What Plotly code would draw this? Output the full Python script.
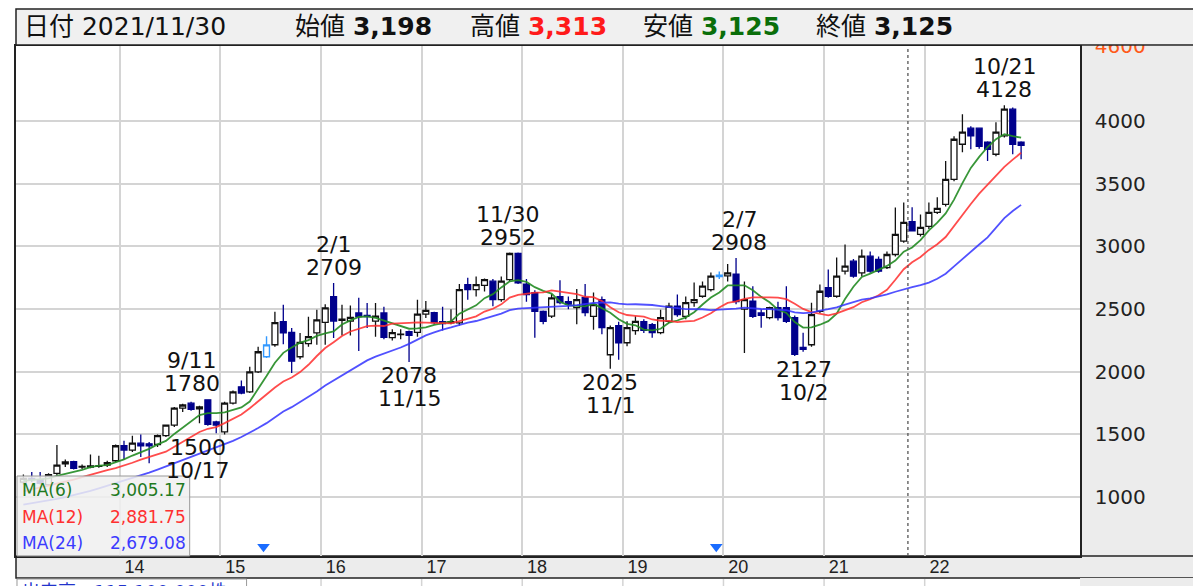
import plotly.graph_objects as go
import pandas as pd

# ---------------- data (monthly candles, Jan 2013 - Dec 2022) ----------------
months = pd.period_range("2013-01", "2022-12", freq="M").strftime("%Y-%m").tolist()

open_ = [1120, 1150, 1140, 1100, 1190, 1265, 1282, 1240, 1240, 1245, 1255, 1290,
         1410, 1375, 1430, 1425, 1420, 1490, 1575, 1710, 1750, 1705, 1776, 1600,
         1520, 1750, 1880, 1840, 2000, 2120, 2216, 2400, 2315, 2120, 2225, 2310,
         2395, 2600, 2410, 2405, 2470, 2450, 2405, 2470, 2272, 2296, 2320, 2315,
         2460, 2472, 2400, 2390, 2390, 2695, 2656, 2690, 2723, 2576, 2736, 2944,
         2700, 2632, 2483, 2445, 2600, 2560, 2512, 2592, 2443, 2576, 2136, 2368,
         2232, 2328, 2400, 2376, 2312, 2403, 2523, 2443, 2552, 2603, 2656, 2760,
         2765, 2780, 2500, 2563, 2470, 2432, 2512, 2512, 2432, 2195, 2216, 2483,
         2672, 2603, 2803, 2883, 2790, 2923, 2896, 2832, 2936, 3043, 3198, 3096,
         3160, 3272, 3336, 3536, 3816, 3944, 3944, 3832, 3736, 3882, 4096, 3832]
high = [1180, 1200, 1200, 1190, 1416, 1300, 1290, 1260, 1340, 1330, 1290, 1420,
        1450, 1490, 1500, 1440, 1500, 1580, 1720, 1745, 1760, 1730, 1780, 1610,
        1760, 1850, 1930, 2040, 2200, 2283, 2480, 2536, 2350, 2310, 2440, 2495,
        2540, 2709, 2536, 2530, 2590, 2550, 2550, 2520, 2340, 2340, 2330, 2575,
        2565, 2480, 2520, 2500, 2700, 2750, 2760, 2745, 2740, 2760, 2952, 2952,
        2740, 2650, 2490, 2620, 2730, 2600, 2660, 2700, 2632, 2600, 2370, 2400,
        2403, 2443, 2420, 2390, 2496, 2552, 2616, 2600, 2712, 2720, 2792, 2800,
        2860, 2908, 2720, 2683, 2500, 2520, 2560, 2683, 2450, 2312, 2552, 2696,
        2816, 2912, 3016, 2900, 2976, 2960, 2920, 2960, 3312, 3352, 3313, 3256,
        3352, 3392, 3683, 3880, 4056, 3960, 3950, 3840, 3992, 4128, 4110, 3840]
low = [1100, 1120, 1100, 1090, 1170, 1240, 1220, 1225, 1230, 1235, 1240, 1280,
       1300, 1360, 1320, 1270, 1400, 1480, 1560, 1680, 1690, 1590, 1570, 1510,
       1500, 1740, 1820, 1830, 1990, 2110, 2200, 2220, 1990, 2100, 2200, 2215,
       2215, 2270, 2290, 2290, 2165, 2350, 2280, 2260, 2250, 2260, 2078, 2280,
       2430, 2380, 2330, 2380, 2370, 2575, 2600, 2640, 2523, 2560, 2720, 2700,
       2560, 2272, 2380, 2430, 2540, 2500, 2380, 2443, 2336, 2300, 2025, 2096,
       2203, 2296, 2310, 2272, 2300, 2390, 2440, 2420, 2520, 2590, 2640, 2740,
       2720, 2540, 2150, 2430, 2352, 2420, 2410, 2390, 2127, 2160, 2200, 2470,
       2590, 2590, 2776, 2750, 2760, 2790, 2790, 2820, 2920, 3030, 3125, 3080,
       3140, 3260, 3320, 3520, 3752, 3776, 3780, 3683, 3720, 3870, 3736, 3696]
close = [1150, 1140, 1110, 1180, 1255, 1280, 1230, 1245, 1250, 1250, 1275, 1410,
         1375, 1430, 1410, 1410, 1490, 1575, 1710, 1735, 1700, 1720, 1580, 1575,
         1750, 1840, 1830, 2000, 2160, 2215, 2392, 2310, 2085, 2235, 2280, 2415,
         2510, 2405, 2420, 2435, 2440, 2440, 2445, 2275, 2312, 2300, 2290, 2460,
         2490, 2392, 2385, 2400, 2655, 2655, 2696, 2736, 2576, 2723, 2944, 2710,
         2616, 2483, 2403, 2590, 2552, 2540, 2576, 2472, 2536, 2352, 2352, 2232,
         2352, 2403, 2330, 2312, 2432, 2523, 2456, 2552, 2576, 2683, 2763, 2770,
         2790, 2560, 2576, 2443, 2450, 2512, 2432, 2403, 2140, 2180, 2456, 2643,
         2603, 2763, 2843, 2763, 2923, 2803, 2803, 2936, 3096, 3192, 3125, 3152,
         3272, 3304, 3536, 3856, 3912, 3882, 3800, 3776, 3912, 4096, 3816, 3808]

# moving-average values read off the chart where the window is not yet full
ma6_head = [1130, 1135, 1140, 1150, 1170]
ma12_head = [1045, 1060, 1075, 1090, 1105, 1120, 1140, 1160, 1180, 1200, 1215]
ma24_head = [940, 950, 960, 970, 985, 1000, 1015, 1030, 1050, 1070, 1090, 1110,
             1130, 1150, 1170, 1195, 1220, 1245, 1270, 1295, 1320, 1345, 1370]

marked_months = ["2015-06", "2019-12"]          # light-blue candles / ▼ markers
hover_month = "2021-11"
hover_date_text = "2021/11/30"
ma_periods = [6, 12, 24]
ma_legend_values = [3005.17, 2881.75, 2679.08]

year_ticks = list(range(2014, 2023))
year_labels = [f"{y % 100:02d}" for y in year_ticks]
price_ticks = [1000, 1500, 2000, 2500, 3000, 3500, 4000]

# extremes annotated on the chart: (month, kind, date text, x shift px)
extremes = [("2014-11", "high", "9/11", -16), ("2015-01", "low", "10/17", -27),
            ("2016-02", "high", "2/1", 0), ("2016-11", "low", "11/15", 0),
            ("2017-11", "high", "11/30", -2), ("2018-11", "low", "11/1", 0),
            ("2020-02", "high", "2/7", 3), ("2020-09", "low", "10/2", 9),
            ("2022-10", "high", "10/21", 0)]

volume_text = "出来高　115,100,000株"

# ---------------- derived ----------------
df = pd.DataFrame({"m": months, "o": open_, "h": high, "l": low, "c": close})
df["x"] = [int(s[:4]) + (int(s[5:]) - 0.5) / 12 for s in months]
is_marked = df["m"].isin(marked_months)

ma = {}
for p, head in zip(ma_periods, [ma6_head, ma12_head, ma24_head]):
    s = df["c"].rolling(p).mean()
    s.iloc[:len(head)] = head
    ma[p] = s

# page has an 8px body margin; figure is sized so that the plot lands at page (14..1080, 46..556)
OFF = 8
W, H = 1201 - OFF, 586 - OFF
PL, PR, PT, PB = 14, 1080, 46, 556          # plot edges in page pixels
PW, PH = PR - PL, PB - PT
L, T = PL - OFF, PT - OFF
R, B = W - L - PW, H - T - PH


def px(xp):
    return (xp - PL) / PW


def py(yp):
    return (PB - yp) / PH


NAVY = "#00008c"
ma_colors = ["rgba(34,139,34,0.9)", "rgba(255,45,45,0.85)", "rgba(50,50,255,0.85)"]
ma_text_colors = ["#1f7a1f", "#ff3030", "#3b3bff"]

fig = go.Figure()
main = df[~is_marked]
fig.add_trace(go.Candlestick(
    x=main["x"], open=main["o"], high=main["h"], low=main["l"], close=main["c"],
    increasing=dict(line=dict(color="#111111", width=1.3), fillcolor="white"),
    decreasing=dict(line=dict(color=NAVY, width=1.3), fillcolor=NAVY),
    whiskerwidth=0, hoverinfo="skip", showlegend=False))
mk = df[is_marked]
fig.add_trace(go.Candlestick(
    x=mk["x"], open=mk["o"], high=mk["h"], low=mk["l"], close=mk["c"],
    increasing=dict(line=dict(color="#3399ff", width=1.4), fillcolor="white"),
    decreasing=dict(line=dict(color="#3399ff", width=1.4), fillcolor="#3399ff"),
    whiskerwidth=0, hoverinfo="skip", showlegend=False))

for p, col in zip(ma_periods, ma_colors):
    fig.add_trace(go.Scatter(x=df["x"], y=ma[p], mode="lines",
                             line=dict(color=col, width=1.8), hoverinfo="skip",
                             showlegend=False))

fig.add_trace(go.Scatter(x=mk["x"] - 0.03, y=[0.018] * len(mk), yaxis="y2",
                         mode="markers", marker=dict(symbol="triangle-down", size=11,
                                                     color="#1a6cff"),
                         hoverinfo="skip", showlegend=False))

XR = px(1201)
shapes = [
    dict(type="rect", xref="paper", yref="paper", x0=1, x1=XR, y0=0, y1=1,
         fillcolor="#ececec", line_width=0, layer="below"),
    dict(type="rect", xref="paper", yref="paper", x0=0, x1=XR, y0=py(578), y1=0,
         fillcolor="#ececec", line=dict(color="#222", width=1.5), layer="below"),
    dict(type="rect", xref="paper", yref="paper", x0=1, x1=XR, y0=py(590), y1=py(578),
         fillcolor="#ececec", line_width=0, layer="below"),
    dict(type="rect", xref="paper", yref="paper", x0=0, x1=px(1200), y0=py(45), y1=py(9),
         fillcolor="#f0f0f0", line=dict(color="#222", width=1.5), layer="above"),
    dict(type="rect", xref="paper", yref="paper", x0=px(15), x1=px(188), y0=0, y1=py(476),
         fillcolor="rgba(240,240,240,0.85)", line=dict(color="#999", width=1), layer="above"),
    dict(type="rect", xref="paper", yref="paper", x0=px(15), x1=px(245), y0=py(595), y1=py(579),
         fillcolor="white", line=dict(color="#999", width=1), layer="above"),
]
hover_x = int(hover_month[:4]) + (int(hover_month[5:]) - 1) / 12
shapes.append(dict(type="line", xref="x", yref="paper", x0=hover_x, x1=hover_x, y0=0, y1=1,
                   line=dict(color="#555", width=1.3, dash="dot"), layer="above"))
for yv in year_ticks:
    shapes.append(dict(type="line", xref="x", yref="paper", x0=yv, x1=yv, y0=py(590), y1=py(579),
                       line=dict(color="#d4d4d4", width=1.5), layer="below"))

ann = []
FONT = "DejaVu Sans"
hrow = df[df["m"] == hover_month].iloc[0]
hy = py(27)
head_items = [
    (20, f"日付 {hover_date_text}"),
    (292, f"始値 <b>{hrow['o']:,}</b>"),
    (467, f"高値 <b><span style='color:#ff1a1a'>{hrow['h']:,}</span></b>"),
    (640, f"安値 <b><span style='color:#0a6e0a'>{hrow['l']:,}</span></b>"),
    (814, f"終値 <b>{hrow['c']:,}</b>"),
]
for xp, t in head_items:
    ann.append(dict(xref="paper", yref="paper", x=px(xp), y=hy, text=t, showarrow=False,
                    xanchor="left", yanchor="middle",
                    font=dict(family=f"{FONT}, Noto Sans CJK JP", size=25, color="#111")))

for i, (p, v) in enumerate(zip(ma_periods, ma_legend_values)):
    yy = py(490 + i * 26.5)
    ann.append(dict(xref="paper", yref="paper", x=px(18), y=yy, text=f"MA({p})",
                    showarrow=False, xanchor="left", yanchor="middle",
                    font=dict(family=FONT, size=17, color=ma_text_colors[i])))
    ann.append(dict(xref="paper", yref="paper", x=px(186), y=yy, text=f"{v:,.2f}",
                    showarrow=False, xanchor="right", yanchor="middle",
                    font=dict(family=FONT, size=17, color=ma_text_colors[i])))

LINE_GAP = 23
afont = dict(family=FONT, size=22, color="#111")
for mth, kind, dtxt, xs in extremes:
    r = df[df["m"] == mth].iloc[0]
    if kind == "high":
        v = r["h"]
        ann.append(dict(x=r["x"], y=v, text=str(v), showarrow=False, xanchor="center",
                        yanchor="bottom", xshift=xs, yshift=1, font=afont))
        ann.append(dict(x=r["x"], y=v, text=dtxt, showarrow=False, xanchor="center",
                        yanchor="bottom", xshift=xs, yshift=1 + LINE_GAP, font=afont))
    else:
        v = r["l"]
        ann.append(dict(x=r["x"], y=v, text=str(v), showarrow=False, xanchor="center",
                        yanchor="top", xshift=xs, yshift=1, font=afont))
        ann.append(dict(x=r["x"], y=v, text=dtxt, showarrow=False, xanchor="center",
                        yanchor="top", xshift=xs, yshift=1 - LINE_GAP, font=afont))

ann.append(dict(xref="paper", yref="paper", x=px(18), y=py(591), text=volume_text,
                showarrow=False, xanchor="left", yanchor="middle",
                font=dict(family=f"{FONT}, Noto Sans CJK JP", size=18, color="#2233cc")))

fig.update_layout(
    width=W, height=H, margin=dict(l=L, r=R, t=T, b=B),
    paper_bgcolor="white", plot_bgcolor="white", showlegend=False,
    boxmode="overlay", boxgap=0.3, boxgroupgap=0,
    shapes=shapes, annotations=ann,
    xaxis=dict(range=[2013 - 3.2 / 100.8, 2013 + (PR - 17.2) / 100.8],
               tickvals=year_ticks, ticktext=year_labels, ticks="",
               ticklabelposition="outside right", ticklabelshift=4, ticklabelstandoff=-6,
               showgrid=True, gridcolor="#d4d4d4", gridwidth=1.5, zeroline=False,
               showline=True, linecolor="#222", linewidth=1.5, mirror=True,
               tickfont=dict(family="Liberation Sans", size=18, color="#222"),
               rangeslider=dict(visible=False), fixedrange=True),
    yaxis=dict(range=[530, 4600], side="right",
               tickvals=price_ticks + [4600],
               ticktext=[str(v) for v in price_ticks] + ["<span style='color:#ff5a1a'>4600</span>"],
               ticks="", ticklabelstandoff=9,
               showgrid=True, gridcolor="#d4d4d4", gridwidth=1.5, zeroline=False,
               showline=True, linecolor="#222", linewidth=1.5, mirror=True,
               tickfont=dict(family=FONT, size=20, color="#222"), fixedrange=True),
    yaxis2=dict(range=[0, 1], overlaying="y", visible=False, fixedrange=True),
)

fig.write_html("out.html")
